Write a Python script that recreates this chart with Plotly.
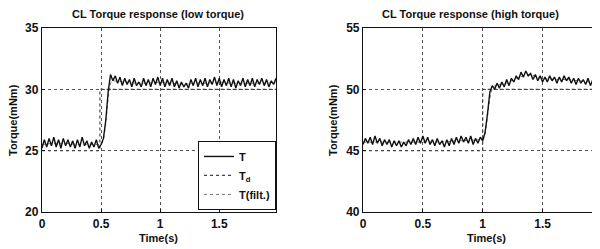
import plotly.graph_objects as go

# ---------------- data ----------------
time = [round(i * 0.02, 2) for i in range(100)]

low_T = [25.2, 25.9, 25.3, 26.0, 25.4, 26.1, 25.3, 25.9, 25.2, 26.0,
         25.4, 25.9, 25.3, 25.8, 25.2, 25.9, 25.3, 26.1, 25.4, 25.8,
         25.2, 25.7, 25.3, 25.9, 25.2, 25.5, 26.0, 27.5, 29.8, 31.2,
         30.7, 31.1, 30.5, 31.0, 30.3, 30.9, 30.4, 30.8, 30.2, 30.9,
         30.3, 30.6, 30.2, 30.9, 30.3, 30.8, 30.2, 30.9, 30.4, 31.0,
         30.3, 30.9, 30.2, 30.8, 30.3, 30.9, 30.2, 30.7, 30.1, 30.6,
         30.2, 30.5, 30.1, 30.8, 30.3, 30.9, 30.2, 30.8, 30.3, 30.9,
         30.2, 30.8, 30.4, 31.0, 30.3, 30.9, 30.2, 30.8, 30.3, 30.9,
         30.2, 30.8, 30.1, 30.7, 30.3, 30.9, 30.2, 30.8, 30.3, 30.9,
         30.2, 30.8, 30.4, 30.9, 30.3, 30.8, 30.2, 30.7, 30.4, 30.9]

low_Td_t = [0.0, 0.49, 0.49, 1.98]
low_Td = [25.0, 25.0, 30.0, 30.0]

filt_t = [0.0, 0.1, 0.2, 0.3, 0.4, 0.5, 0.52, 0.54, 0.56, 0.58, 0.6, 0.7, 0.8,
          0.9, 1.0, 1.1, 1.2, 1.3, 1.4, 1.5, 1.6, 1.7, 1.8, 1.9, 1.98]
low_filt = [25.5, 25.6, 25.6, 25.5, 25.5, 25.5, 25.8, 27.2, 29.3, 30.5, 30.7,
            30.6, 30.5, 30.5, 30.6, 30.5, 30.4, 30.5, 30.5, 30.6, 30.5, 30.5,
            30.5, 30.5, 30.6]

high_T = [45.5, 46.0, 45.6, 46.1, 45.5, 46.2, 45.6, 46.0, 45.4, 45.9,
          45.5, 45.9, 45.3, 45.8, 45.4, 45.8, 45.3, 45.7, 45.4, 45.9,
          45.5, 46.0, 45.5, 46.1, 45.6, 46.2, 45.6, 46.1, 45.5, 45.9,
          45.4, 46.0, 45.5, 45.8, 45.3, 45.9, 45.4, 46.0, 45.5, 46.1,
          45.6, 46.2, 45.7, 46.1, 45.6, 46.2, 45.5, 46.0, 45.6, 46.1,
          45.8, 46.5, 48.0, 49.8, 50.3, 50.0, 50.5, 50.1, 50.6, 50.2,
          50.8, 50.3, 50.9, 50.6, 51.1, 50.8, 51.4, 51.0, 51.5, 51.1,
          51.3, 50.8, 51.2, 50.7, 51.1, 50.6, 51.0, 50.6, 51.1, 50.7,
          51.0, 50.5, 51.0, 50.6, 51.1, 50.7, 51.0, 50.5, 50.9, 50.4,
          50.9, 50.5, 50.8, 50.4, 50.9, 50.3, 50.8, 50.4, 50.7, 50.3]

high_Td_t = [0.0, 1.0, 1.0, 1.98]
high_Td = [45.0, 45.0, 50.0, 50.0]

filt_t_high = [0.0, 0.2, 0.4, 0.6, 0.8, 1.0, 1.02, 1.04, 1.06, 1.08, 1.1, 1.2,
               1.3, 1.4, 1.5, 1.6, 1.7, 1.8, 1.9, 1.98]
high_filt = [45.7, 45.7, 45.7, 45.7, 45.8, 45.9, 46.3, 47.6, 49.3, 50.1, 50.3,
             50.5, 51.0, 51.2, 50.9, 50.8, 50.8, 50.7, 50.6, 50.5]

titles = ["CL Torque response (low torque)", "CL Torque response (high torque)"]
x_label = "Time(s)"
y_label = "Torque(mNm)"
x_ticks = [0, 0.5, 1, 1.5]
x_tick_text = ["0", "0.5", "1", "1.5"]
low_y_ticks = [20, 25, 30, 35]
high_y_ticks = [40, 45, 50, 55]

# ---------------- figure ----------------
# The page body adds an 8px offset, so the figure is 8px smaller than the window.
W, H = 592, 241
FONT = "Liberation Sans"
fig = go.Figure()

def add_series(t, T, td_t, Td, ft, F, xa, ya):
    fig.add_trace(go.Scatter(x=ft, y=F, mode="lines", name="T(filt.)",
                             line=dict(color="#777777", width=1, dash="dot"),
                             xaxis=xa, yaxis=ya, showlegend=False))
    fig.add_trace(go.Scatter(x=td_t, y=Td, mode="lines", name="T<sub>d</sub>",
                             line=dict(color="#444444", width=1.2, dash="dot"),
                             xaxis=xa, yaxis=ya, showlegend=False))
    fig.add_trace(go.Scatter(x=t, y=T, mode="lines", name="T",
                             line=dict(color="#111111", width=1.4),
                             xaxis=xa, yaxis=ya, showlegend=False))

add_series(time, low_T, low_Td_t, low_Td, filt_t, low_filt, "x", "y")
add_series(time, high_T, high_Td_t, high_Td, filt_t_high, high_filt, "x2", "y2")

# legend entries (order: T, Td, T(filt.))
fig.add_trace(go.Scatter(x=[None], y=[None], mode="lines", name="T",
                         line=dict(color="#111111", width=1.4), xaxis="x", yaxis="y"))
fig.add_trace(go.Scatter(x=[None], y=[None], mode="lines", name="T<sub>d</sub>",
                         line=dict(color="#444444", width=1.2, dash="dot"), xaxis="x", yaxis="y"))
fig.add_trace(go.Scatter(x=[None], y=[None], mode="lines", name="T(filt.)",
                         line=dict(color="#777777", width=1, dash="dot"), xaxis="x", yaxis="y"))

axis_common = dict(showline=True, linecolor="#111111", linewidth=1.2,
                   ticks="inside", ticklen=3, tickcolor="#111111",
                   showgrid=True, gridcolor="#555555", griddash="dot", gridwidth=1,
                   zeroline=False, automargin=False,
                   tickfont=dict(family=FONT, size=12, color="#111111", weight="bold"))

ydom = [0.1535, 0.917]
lab_font = dict(family=FONT, size=11, weight="bold", color="#111111")
fig.update_layout(
    width=W, height=H,
    margin=dict(l=0, r=0, t=0, b=0, autoexpand=False),
    paper_bgcolor="white", plot_bgcolor="white",
    font=dict(family=FONT, color="#111111"),
    xaxis=dict(domain=[0.0574, 0.4527], range=[0, 1.98], tickvals=x_ticks, ticktext=x_tick_text,
               anchor="y", mirror=True, **axis_common),
    yaxis=dict(domain=ydom, range=[20, 35], tickvals=low_y_ticks, anchor="x", mirror=True,
               **axis_common),
    xaxis2=dict(domain=[0.5997, 1.0], range=[0, 1.98], tickvals=x_ticks, ticktext=x_tick_text,
                anchor="y2", mirror=True, **axis_common),
    yaxis2=dict(domain=ydom, range=[40, 55], tickvals=high_y_ticks, anchor="x2", mirror=False,
                **axis_common),
    legend=dict(x=0.4527, xanchor="right", y=0.162, yanchor="bottom",
                bgcolor="white", bordercolor="#111111", borderwidth=1,
                font=dict(family=FONT, size=11, weight="bold"),
                itemwidth=30, tracegroupgap=0),
    showlegend=True,
    annotations=[
        dict(text=titles[0], x=150 / W, y=1 - 6 / H, xref="paper", yref="paper",
             xanchor="center", yanchor="middle", showarrow=False, font=lab_font),
        dict(text=titles[1], x=462 / W, y=1 - 6 / H, xref="paper", yref="paper",
             xanchor="center", yanchor="middle", showarrow=False, font=lab_font),
        dict(text=x_label, x=150 / W, y=1 - 230 / H, xref="paper", yref="paper",
             xanchor="center", yanchor="middle", showarrow=False, font=lab_font),
        dict(text=x_label, x=478 / W, y=1 - 230 / H, xref="paper", yref="paper",
             xanchor="center", yanchor="middle", showarrow=False, font=lab_font),
        dict(text=y_label, x=5 / W, y=1 - 112 / H, xref="paper", yref="paper",
             xanchor="center", yanchor="middle", showarrow=False, textangle=-90, font=lab_font),
        dict(text=y_label, x=325 / W, y=1 - 112 / H, xref="paper", yref="paper",
             xanchor="center", yanchor="middle", showarrow=False, textangle=-90, font=lab_font),
    ],
)

fig.write_html("out.html")
